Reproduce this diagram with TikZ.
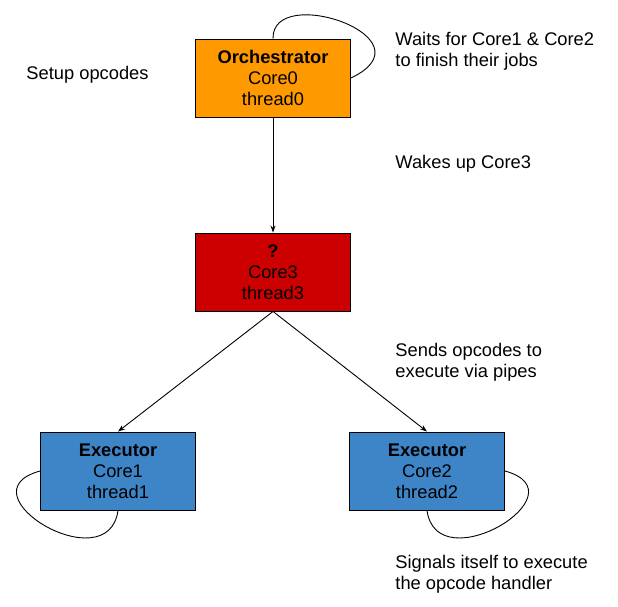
\documentclass[tikz,border=0pt]{standalone}
\usepackage{fontspec}
\setmainfont{Liberation Sans}
\usetikzlibrary{arrows.meta}
\definecolor{OrchCol}{RGB}{255,153,0}
\definecolor{WakeCol}{RGB}{204,0,0}
\definecolor{ExecCol}{RGB}{61,133,198}
\tikzstyle{proc} = [rectangle, draw=black, minimum width=155pt, minimum height=78pt, align=center, inner sep=0pt]
\tikzstyle{note} = [anchor=base west, align=left, inner sep=0pt]
\tikzstyle{flow} = [-{Stealth[length=7pt,width=5pt]}]

\begin{document}
\begin{tikzpicture}[x=1pt, y=-1pt, font={\fontsize{18.3}{21}\selectfont}, line width=0.9pt]
                \useasboundingbox (0,0) rectangle (618,607);
                \node[proc, fill=OrchCol] (orch) at (273,78) {\textbf{Orchestrator}\\Core0\\thread0};
                \node[proc, fill=WakeCol] (core3) at (273,272) {\textbf{?}\\Core3\\thread3};
                \node[proc, fill=ExecCol] (exec1) at (118,471) {\textbf{Executor}\\Core1\\thread1};
                \node[proc, fill=ExecCol] (exec2) at (427,471) {\textbf{Executor}\\Core2\\thread2};
                % notes
                \node[note] (setup) at (26,80) {Setup opcodes};
                \node[note] (waits) at (395,67) {Waits for Core1 \& Core2\\to finish their jobs};
                \node[note] (wakes) at (395,168) {Wakes up Core3};
                \node[note] (sends) at (395,377) {Sends opcodes to\\execute via pipes};
                \node[note] (signals) at (395,589) {Signals itself to execute\\the opcode handler};
                % connectors
                \draw[flow] (orch.south) -- (core3.north);
                \draw[flow] (core3.south) -- (exec1.north);
                \draw[flow] (core3.south) -- (exec2.north);
                \draw (orch.north) .. controls +(-1,-56) and +(84,-40) .. (orch.east);
                \draw (exec1.west) .. controls +(-80,22) and +(-10,72) .. (exec1.south);
                \draw (exec2.east) .. controls +(80,22) and +(10,72) .. (exec2.south);
             \end{tikzpicture}
\end{document}
